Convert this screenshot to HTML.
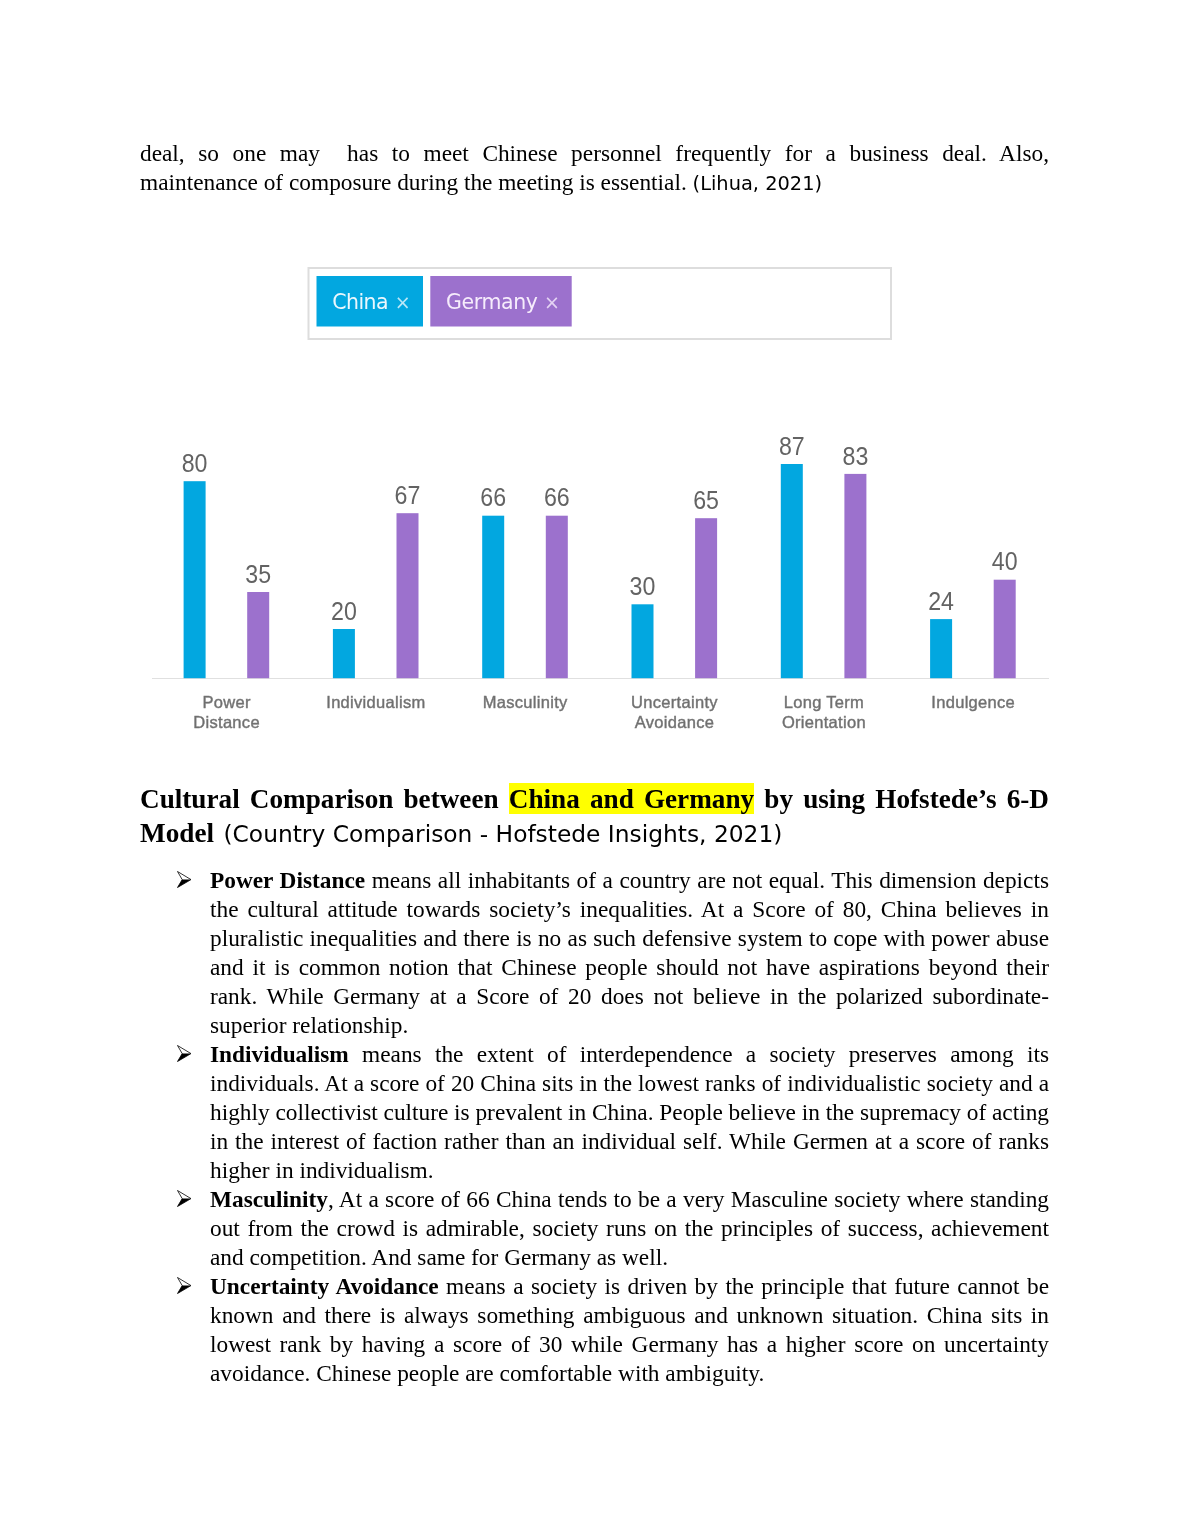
<!DOCTYPE html>
<html><head><meta charset="utf-8"><title>Cultural Comparison</title>
<style>
html,body{margin:0;padding:0;background:#fff;}
body{will-change:transform;width:1190px;height:1540px;position:relative;overflow:hidden;font-family:"Liberation Serif",serif;color:#000;}
.ln{position:absolute;left:140px;width:909px;font-size:23.33px;line-height:29px;height:29px;white-space:nowrap;}
.j{text-align:justify;text-align-last:justify;white-space:normal;}
.li{left:210px;width:839px;}
.dv{font-family:"DejaVu Sans",sans-serif;}
.cite{font-family:"DejaVu Sans",sans-serif;font-size:19.4px;}
.h{font-size:27.2px;font-weight:bold;line-height:34px;height:34px;}
.hl{background:#ffff00;padding-top:1.2px;}
svg text.v{font-family:"Liberation Sans",Arial,sans-serif;font-size:23.2px;fill:#636363;text-anchor:middle;}
svg text.c{font-family:"Liberation Sans",Arial,sans-serif;font-size:16.5px;letter-spacing:0.3px;fill:#6e6e6e;stroke:#7a7a7a;stroke-width:0.45px;text-anchor:middle;}
.arr{position:absolute;left:177px;width:15px;height:17px;}
</style></head><body>

<div class="ln j" style="top:139px">deal, so one may&nbsp; has to meet Chinese personnel frequently for a business deal. Also,</div>
<div class="ln" style="top:168px">maintenance of composure during the meeting is essential. <span class="cite">(Lihua, 2021)</span></div>

<svg style="position:absolute;left:0;top:250px" width="1190" height="500" viewBox="0 250 1190 500">
 <rect x="308.5" y="268" width="582.5" height="71" fill="#fff" stroke="#dddddd" stroke-width="2"/>
 <rect x="316.5" y="276" width="106.5" height="50.5" fill="#02a7e0"/>
 <rect x="430.3" y="276" width="141.4" height="50.5" fill="#9c71cd"/>
 <g font-family="DejaVu Sans, sans-serif" font-size="20.5" fill="#eaf7fd">
  <text x="332.2" y="309" letter-spacing="-0.55">China</text>
  <text x="394.8" y="309" font-size="19" fill-opacity="0.8">×</text>
 </g>
 <g font-family="DejaVu Sans, sans-serif" font-size="20.5" fill="#f6ecfc">
  <text x="446" y="309" letter-spacing="-0.37">Germany</text>
  <text x="544" y="309" font-size="19" fill-opacity="0.8">×</text>
 </g>
 <line x1="152" y1="678.5" x2="1049" y2="678.5" stroke="#e0e0e0" stroke-width="1"/>
 <g id="bars">
  <rect x="183.6" y="481.2" width="22.0" height="197.0" fill="#02a7e0"/>
  <text transform="translate(194.6,471.8) scale(1,1.12)" class="v">80</text>
  <rect x="247.2" y="592.0" width="22.0" height="86.2" fill="#9c71cd"/>
  <text transform="translate(258.2,582.6) scale(1,1.12)" class="v">35</text>
  <text x="226.6" y="708.2" class="c">Power</text>
  <text x="226.6" y="728.2" class="c">Distance</text>
  <rect x="332.9" y="629.0" width="22.0" height="49.2" fill="#02a7e0"/>
  <text transform="translate(343.9,619.6) scale(1,1.12)" class="v">20</text>
  <rect x="396.5" y="513.2" width="22.0" height="165.0" fill="#9c71cd"/>
  <text transform="translate(407.5,503.8) scale(1,1.12)" class="v">67</text>
  <text x="375.9" y="708.2" class="c">Individualism</text>
  <rect x="482.2" y="515.7" width="22.0" height="162.5" fill="#02a7e0"/>
  <text transform="translate(493.2,506.3) scale(1,1.12)" class="v">66</text>
  <rect x="545.8" y="515.7" width="22.0" height="162.5" fill="#9c71cd"/>
  <text transform="translate(556.8,506.3) scale(1,1.12)" class="v">66</text>
  <text x="525.2" y="708.2" class="c">Masculinity</text>
  <rect x="631.5" y="604.3" width="22.0" height="73.9" fill="#02a7e0"/>
  <text transform="translate(642.5,594.9) scale(1,1.12)" class="v">30</text>
  <rect x="695.1" y="518.2" width="22.0" height="160.0" fill="#9c71cd"/>
  <text transform="translate(706.1,508.8) scale(1,1.12)" class="v">65</text>
  <text x="674.5" y="708.2" class="c">Uncertainty</text>
  <text x="674.5" y="728.2" class="c">Avoidance</text>
  <rect x="780.8" y="464.0" width="22.0" height="214.2" fill="#02a7e0"/>
  <text transform="translate(791.8,454.6) scale(1,1.12)" class="v">87</text>
  <rect x="844.4" y="473.9" width="22.0" height="204.3" fill="#9c71cd"/>
  <text transform="translate(855.4,464.5) scale(1,1.12)" class="v">83</text>
  <text x="823.9" y="708.2" class="c">Long Term</text>
  <text x="823.9" y="728.2" class="c">Orientation</text>
  <rect x="930.1" y="619.1" width="22.0" height="59.1" fill="#02a7e0"/>
  <text transform="translate(941.1,609.7) scale(1,1.12)" class="v">24</text>
  <rect x="993.7" y="579.7" width="22.0" height="98.5" fill="#9c71cd"/>
  <text transform="translate(1004.7,570.3) scale(1,1.12)" class="v">40</text>
  <text x="973.2" y="708.2" class="c">Indulgence</text>
 </g>
</svg>

<div class="ln h j" style="top:782px">Cultural Comparison between <span class="hl">China and Germany</span> by using Hofstede’s 6-D</div>
<div class="ln h" style="top:816px">Model <span class="dv" style="font-weight:normal;font-size:23.33px;margin-left:2.7px">(Country Comparison - Hofstede Insights, 2021)</span></div>

<svg class="arr" style="top:871px" viewBox="0 0 15 17"><path d="M0.5 0.5 L14 8.6 L0.5 16.5 L5.2 8.6 Z" fill="none" stroke="#000" stroke-width="0.8"/><path d="M5.2 8.6 L14 8.6 L0.5 16.5 Z" fill="#000"/></svg>
<div class="ln li j" style="top:866px"><b>Power Distance</b> means all inhabitants of a country are not equal. This dimension depicts</div>
<div class="ln li j" style="top:895px">the cultural attitude towards society’s inequalities. At a Score of 80, China believes in</div>
<div class="ln li j" style="top:924px">pluralistic inequalities and there is no as such defensive system to cope with power abuse</div>
<div class="ln li j" style="top:953px">and it is common notion that Chinese people should not have aspirations beyond their</div>
<div class="ln li j" style="top:982px">rank. While Germany at a Score of 20 does not believe in the polarized subordinate-</div>
<div class="ln li" style="top:1011px">superior relationship.</div>

<svg class="arr" style="top:1045px" viewBox="0 0 15 17"><path d="M0.5 0.5 L14 8.6 L0.5 16.5 L5.2 8.6 Z" fill="none" stroke="#000" stroke-width="0.8"/><path d="M5.2 8.6 L14 8.6 L0.5 16.5 Z" fill="#000"/></svg>
<div class="ln li j" style="top:1040px"><b>Individualism</b> means the extent of interdependence a society preserves among its</div>
<div class="ln li j" style="top:1069px">individuals. At a score of 20 China sits in the lowest ranks of individualistic society and a</div>
<div class="ln li j" style="top:1098px;word-spacing:-0.3px">highly collectivist culture is prevalent in China. People believe in the supremacy of acting</div>
<div class="ln li j" style="top:1127px">in the interest of faction rather than an individual self. While Germen at a score of ranks</div>
<div class="ln li" style="top:1156px">higher in individualism.</div>

<svg class="arr" style="top:1190px" viewBox="0 0 15 17"><path d="M0.5 0.5 L14 8.6 L0.5 16.5 L5.2 8.6 Z" fill="none" stroke="#000" stroke-width="0.8"/><path d="M5.2 8.6 L14 8.6 L0.5 16.5 Z" fill="#000"/></svg>
<div class="ln li j" style="top:1185px"><b>Masculinity</b>, At a score of 66 China tends to be a very Masculine society where standing</div>
<div class="ln li j" style="top:1214px">out from the crowd is admirable, society runs on the principles of success, achievement</div>
<div class="ln li" style="top:1243px">and competition. And same for Germany as well.</div>

<svg class="arr" style="top:1277px" viewBox="0 0 15 17"><path d="M0.5 0.5 L14 8.6 L0.5 16.5 L5.2 8.6 Z" fill="none" stroke="#000" stroke-width="0.8"/><path d="M5.2 8.6 L14 8.6 L0.5 16.5 Z" fill="#000"/></svg>
<div class="ln li j" style="top:1272px"><b>Uncertainty Avoidance</b> means a society is driven by the principle that future cannot be</div>
<div class="ln li j" style="top:1301px">known and there is always something ambiguous and unknown situation. China sits in</div>
<div class="ln li j" style="top:1330px">lowest rank by having a score of 30 while Germany has a higher score on uncertainty</div>
<div class="ln li" style="top:1359px">avoidance. Chinese people are comfortable with ambiguity.</div>

</body></html>
